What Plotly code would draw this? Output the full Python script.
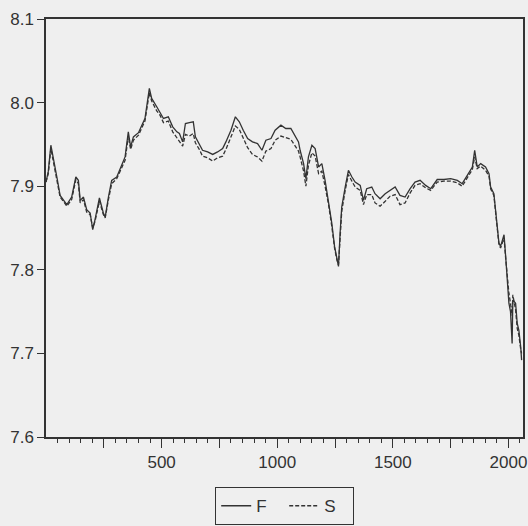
import plotly.graph_objects as go

obs = [0, 10, 21, 32, 47, 61, 75, 90, 111, 129, 140, 148, 162, 176, 191, 202, 212, 231, 248, 256,
       270, 284, 306, 328, 342, 356, 366, 378, 400, 418, 428, 447, 457, 479, 493, 508, 529, 548, 566, 577,
       591, 603, 620, 637, 646, 663, 677, 699, 721, 742, 764, 778, 800, 819, 836, 853, 872, 893, 915, 934,
       951, 973, 991, 1016, 1037, 1059, 1078, 1092, 1099, 1114, 1124, 1135, 1150, 1164, 1179, 1193, 1207, 1222, 1236, 1248,
       1258, 1265, 1272, 1279, 1294, 1308, 1323, 1337, 1359, 1373, 1387, 1409, 1423, 1445, 1467, 1488, 1510, 1531, 1553, 1575,
       1596, 1618, 1642, 1664, 1692, 1721, 1750, 1779, 1800, 1822, 1844, 1854, 1865, 1880, 1901, 1916, 1923, 1937, 1945, 1952,
       1959, 1966, 1981, 1988, 1995, 2002, 2009, 2016, 2019, 2031, 2038, 2045, 2053, 2057]

F = [7.905, 7.918, 7.949, 7.931, 7.911, 7.889, 7.884, 7.878, 7.887, 7.911, 7.907, 7.883, 7.887, 7.872, 7.868, 7.848, 7.860, 7.886, 7.868, 7.863,
     7.887, 7.907, 7.911, 7.925, 7.935, 7.965, 7.947, 7.959, 7.964, 7.975, 7.981, 8.017, 8.005, 7.995, 7.989, 7.981, 7.983, 7.971, 7.965, 7.963,
     7.953, 7.975, 7.976, 7.977, 7.959, 7.951, 7.943, 7.941, 7.938, 7.941, 7.945, 7.953, 7.967, 7.983, 7.977, 7.967, 7.957, 7.953, 7.951, 7.943,
     7.955, 7.957, 7.967, 7.973, 7.969, 7.969, 7.960, 7.953, 7.943, 7.927, 7.909, 7.935, 7.949, 7.945, 7.923, 7.927, 7.907, 7.883, 7.856, 7.828,
     7.816, 7.804, 7.844, 7.875, 7.899, 7.919, 7.911, 7.905, 7.901, 7.883, 7.897, 7.899, 7.891, 7.885, 7.891, 7.895, 7.899, 7.889, 7.887, 7.897,
     7.905, 7.907, 7.901, 7.897, 7.908, 7.908, 7.909, 7.907, 7.903, 7.913, 7.923, 7.943, 7.923, 7.927, 7.923, 7.915, 7.899, 7.891, 7.868, 7.844,
     7.832, 7.828, 7.842, 7.816, 7.784, 7.760, 7.750, 7.712, 7.764, 7.760, 7.736, 7.728, 7.708, 7.692]

S = [7.905, 7.915, 7.945, 7.929, 7.908, 7.887, 7.882, 7.876, 7.884, 7.908, 7.903, 7.880, 7.884, 7.869, 7.866, 7.850, 7.858, 7.882, 7.866, 7.862,
     7.884, 7.903, 7.909, 7.922, 7.931, 7.960, 7.944, 7.955, 7.961, 7.972, 7.978, 8.012, 8.002, 7.990, 7.985, 7.976, 7.978, 7.965, 7.958, 7.955,
     7.948, 7.962, 7.960, 7.963, 7.952, 7.944, 7.936, 7.934, 7.930, 7.934, 7.936, 7.944, 7.958, 7.972, 7.968, 7.958, 7.946, 7.938, 7.935, 7.930,
     7.942, 7.945, 7.955, 7.960, 7.958, 7.956, 7.948, 7.942, 7.935, 7.918, 7.900, 7.925, 7.940, 7.936, 7.915, 7.918, 7.900, 7.878, 7.852, 7.826,
     7.812, 7.806, 7.838, 7.870, 7.895, 7.914, 7.906, 7.899, 7.895, 7.878, 7.890, 7.890, 7.880, 7.876, 7.882, 7.888, 7.890, 7.878, 7.880, 7.892,
     7.901, 7.903, 7.898, 7.895, 7.905, 7.906, 7.906, 7.904, 7.900, 7.910, 7.920, 7.935, 7.921, 7.924, 7.919, 7.912, 7.897, 7.889, 7.866, 7.843,
     7.830, 7.826, 7.838, 7.814, 7.790, 7.772, 7.760, 7.745, 7.770, 7.752, 7.730, 7.722, 7.705, 7.700]

x_tickvals = [250, 500, 750, 1000, 1250, 1500, 1750, 2000]
x_ticktext = ["", "500", "", "1000", "", "1500", "", "2000"]
x_minor_tickvals = list(range(50, 2051, 50))
y_tickvals = [7.6, 7.7, 7.8, 7.9, 8.0, 8.1]
x_range = [0, 2063]
y_range = [7.6, 8.1]

ink = "#333333"
bg = "#efefef"

fig = go.Figure()
fig.add_trace(go.Scatter(x=obs, y=F, name="F", mode="lines",
                         line=dict(color=ink, width=1.3)))
fig.add_trace(go.Scatter(x=obs, y=S, name="S", mode="lines",
                         line=dict(color=ink, width=1.3, dash="4px,2px")))

fig.update_layout(
    width=528, height=526,
    margin=dict(l=46, r=5, t=19, b=89),
    paper_bgcolor=bg, plot_bgcolor=bg,
    font=dict(family="Liberation Sans, Arial, sans-serif", size=17, color=ink),
    showlegend=True,
    legend=dict(orientation="h", x=0.5, xanchor="center",
                yref="container", y=(526 - 487) / 526, yanchor="top",
                bgcolor=bg, bordercolor=ink, borderwidth=1.2,
                entrywidth=23, entrywidthmode="pixels",
                font=dict(size=17, color=ink), itemwidth=30),
    xaxis=dict(range=x_range, showgrid=False, zeroline=False, automargin=False,
               showline=True, linecolor=ink, linewidth=1.5, mirror=True,
               tickmode="array", tickvals=x_tickvals, ticktext=x_ticktext,
               ticks="outside", ticklen=9, tickwidth=1, tickcolor=ink),
    xaxis2=dict(range=x_range, overlaying="x", anchor="y", side="bottom",
                showgrid=False, zeroline=False, automargin=False, showline=False,
                tickmode="array", tickvals=x_minor_tickvals, showticklabels=False,
                ticks="outside", ticklen=5, tickwidth=1, tickcolor=ink),
    yaxis=dict(range=y_range, showgrid=False, zeroline=False, automargin=False,
               showline=True, linecolor=ink, linewidth=1.5, mirror=True,
               tickmode="array", tickvals=y_tickvals, tickformat=".1f",
               ticks="outside", ticklen=7, tickwidth=1, tickcolor=ink),
)
# invisible trace to activate the minor-tick axis
fig.add_trace(go.Scatter(x=[x_range[0]], y=[y_range[0]], xaxis="x2", yaxis="y",
                         mode="markers", marker=dict(opacity=0), showlegend=False,
                         hoverinfo="skip"))

fig.write_html("out.html")
